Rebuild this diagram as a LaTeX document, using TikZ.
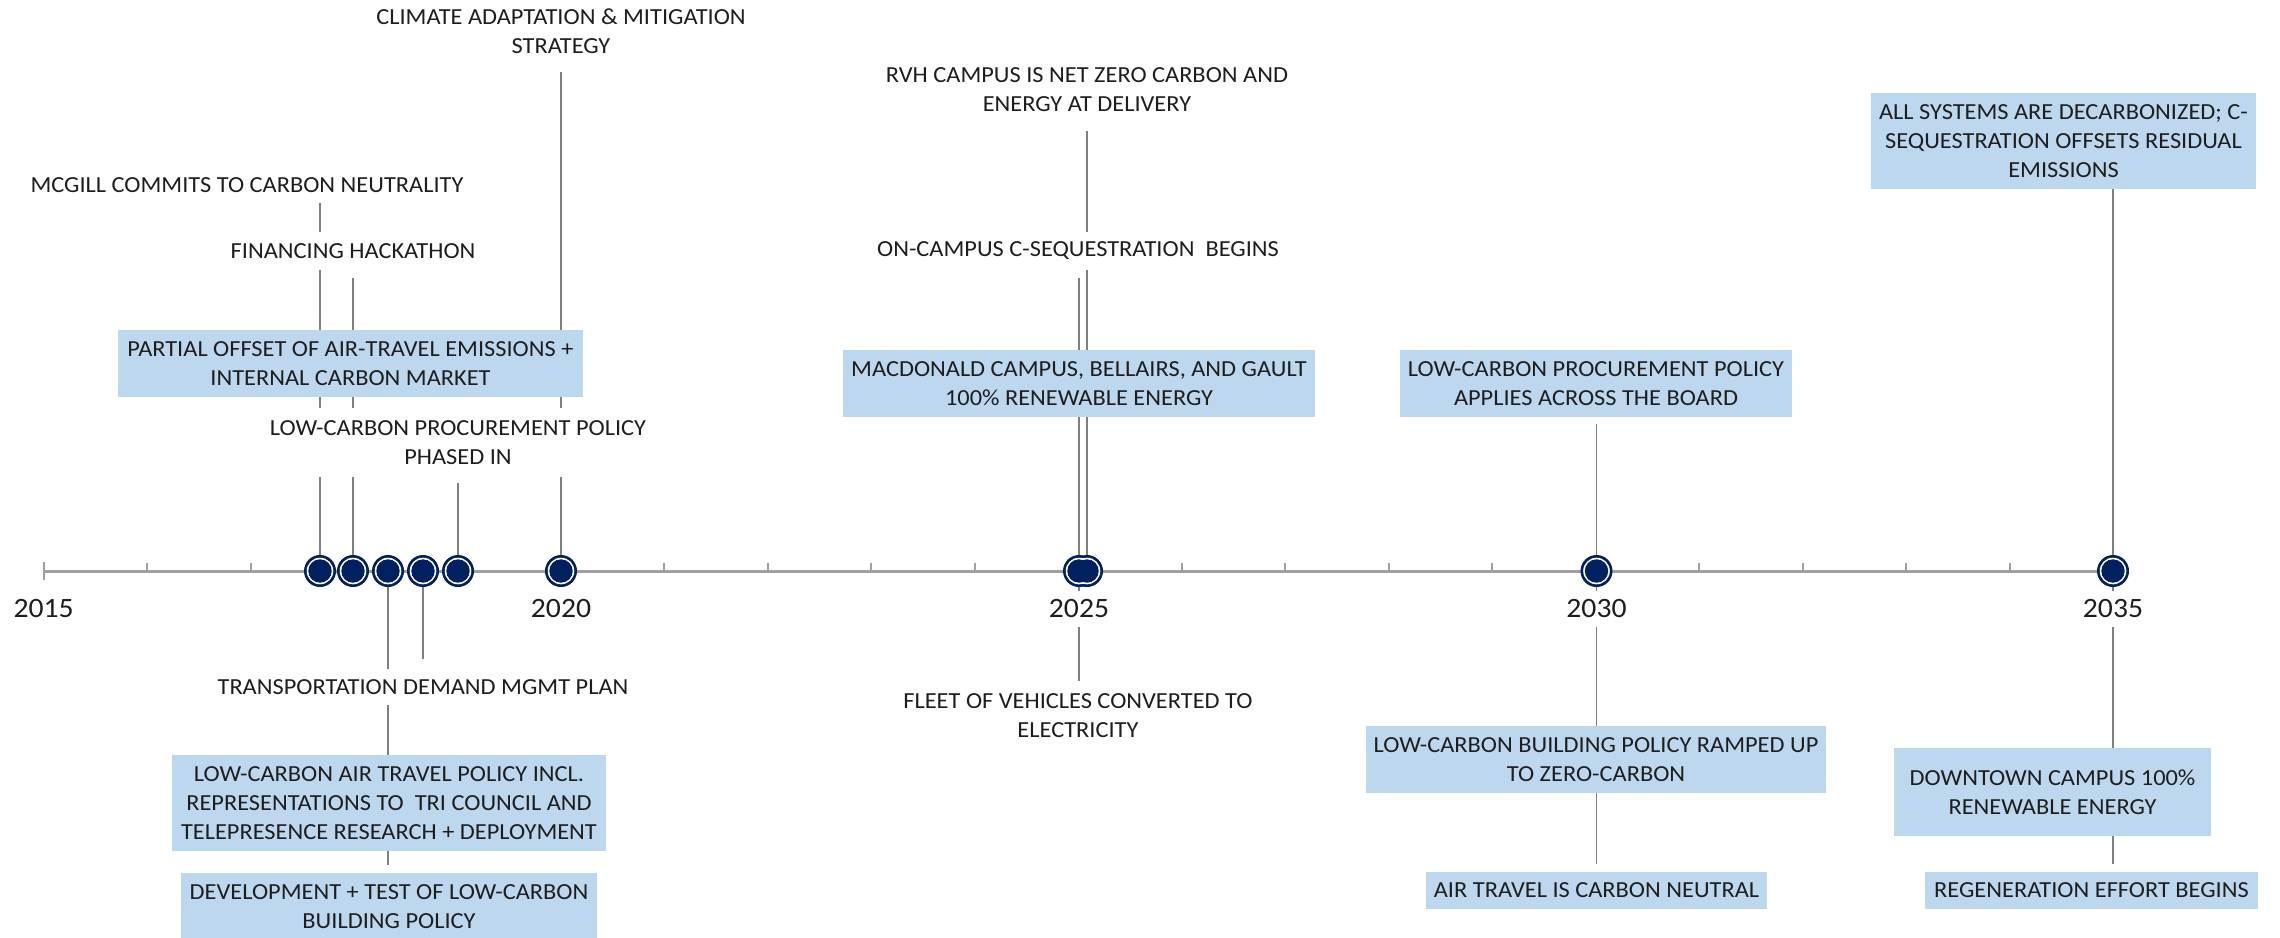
\documentclass[tikz,border=0pt]{standalone}
\usepackage{fontspec}
\setmainfont{Carlito}[FakeStretch=1.06]
\usetikzlibrary{calc}
\definecolor{navy}{HTML}{002060}
\definecolor{boxblue}{HTML}{BDD7EE}
\definecolor{axisgray}{HTML}{A0A0A0}
\definecolor{linegray}{HTML}{808080}
\definecolor{txt}{HTML}{1E1E1E}
\pgfdeclarelayer{axislayer}
\pgfdeclarelayer{connlayer}
\pgfsetlayers{axislayer,connlayer,main}
\begin{document}
\begin{tikzpicture}[x=1pt,y=-1pt,
  evtxt/.style={font=\fontsize{23}{29}\selectfont, text=txt, align=center, inner sep=0pt},
  lbl/.style={evtxt, fill=white},
  bluebox/.style={evtxt, fill=boxblue},
  yearlbl/.style={font=\fontsize{28}{32}\selectfont, text=txt, fill=white, inner sep=0pt, minimum width=72pt, minimum height=36pt},
  conn/.style={draw=linegray, line width=1.5pt},
  axisline/.style={draw=axisgray, line width=3pt},
  tickline/.style={draw=axisgray, line width=2pt}
]
\useasboundingbox (0,0) rectangle (2280,937);

% axis
\coordinate (a0) at (43.6,571);
\coordinate (a1) at (2113,571);
\begin{pgfonlayer}{axislayer}
\draw[axisline] (a0) -- (a1);
\foreach \i in {0,...,20} \draw[tickline] ($(a0)+(\i*103.47,0)$) -- ++(0,-8);
\foreach \i in {0,5,10,15,20} \draw[tickline] ($(a0)+(\i*103.47,-9)$) -- ++(0,18);
\end{pgfonlayer}

% marker positions
\coordinate (m1) at (320,571);
\coordinate (m2) at (353,571);
\coordinate (m3) at (388,571);
\coordinate (m4) at (423,571);
\coordinate (m5) at (458,571);
\coordinate (m6) at (561,571);
\coordinate (m7) at (1079,571);
\coordinate (m8) at (1087,571);
\coordinate (m9) at (1596.5,571);
\coordinate (m10) at (2113,571);

% labels
\node[lbl, minimum width=390pt, minimum height=82pt] (clim) at (561,31) {CLIMATE ADAPTATION \& MITIGATION\\STRATEGY};
\node[lbl, minimum width=440pt, minimum height=36pt] (mcg) at (247,185) {MCGILL COMMITS TO CARBON NEUTRALITY};
\node[lbl, minimum width=260pt, minimum height=38pt] (fin) at (353,251) {FINANCING HACKATHON};
\node[bluebox, minimum width=465pt, minimum height=67pt] (partial) at (350.5,363.5) {PARTIAL OFFSET OF AIR-TRAVEL EMISSIONS +\\INTERNAL CARBON MARKET};
\node[lbl, minimum width=390pt, minimum height=69pt] (proc1) at (458,442.5) {LOW-CARBON PROCUREMENT POLICY\\PHASED IN};
\node[lbl, minimum width=420pt, minimum height=36pt] (tdm) at (423,687) {TRANSPORTATION DEMAND MGMT PLAN};
\node[bluebox, minimum width=434pt, minimum height=96pt] (airpol) at (389,803) {LOW-CARBON AIR TRAVEL POLICY INCL.\\REPRESENTATIONS TO\ \ TRI COUNCIL AND\\TELEPRESENCE RESEARCH + DEPLOYMENT};
\node[bluebox, minimum width=416pt, minimum height=67pt] (dev) at (389,906.5) {DEVELOPMENT + TEST OF LOW-CARBON\\BUILDING POLICY};
\node[lbl, minimum width=410pt, minimum height=70pt] (rvh) at (1087,90) {RVH CAMPUS IS NET ZERO CARBON AND\\ENERGY AT DELIVERY};
\node[lbl, minimum width=412pt, minimum height=38pt] (oncamp) at (1078,251) {ON-CAMPUS C-SEQUESTRATION\ \ BEGINS};
\node[bluebox, minimum width=472pt, minimum height=67pt] (macd) at (1079,383.5) {MACDONALD CAMPUS, BELLAIRS, AND GAULT\\100\% RENEWABLE ENERGY};
\node[lbl, minimum width=360pt, minimum height=70pt] (fleet) at (1078,716) {FLEET OF VEHICLES CONVERTED TO\\ELECTRICITY};
\node[bluebox, minimum width=392pt, minimum height=67pt] (proc2) at (1596,383.5) {LOW-CARBON PROCUREMENT POLICY\\APPLIES ACROSS THE BOARD};
\node[bluebox, minimum width=460pt, minimum height=67pt] (bldg) at (1596,759.5) {LOW-CARBON BUILDING POLICY RAMPED UP\\TO ZERO-CARBON};
\node[bluebox, minimum width=341pt, minimum height=37pt] (airneu) at (1596.5,890.5) {AIR TRAVEL IS CARBON NEUTRAL};
\node[bluebox, minimum width=385pt, minimum height=96pt] (allsys) at (2063.5,141) {ALL SYSTEMS ARE DECARBONIZED; C-\\SEQUESTRATION OFFSETS RESIDUAL\\EMISSIONS};
\node[bluebox, minimum width=317pt, minimum height=88pt] (down) at (2052.5,792) {DOWNTOWN CAMPUS 100\%\\RENEWABLE ENERGY};
\node[bluebox, minimum width=333pt, minimum height=37pt] (regen) at (2091.5,890.5) {REGENERATION EFFORT BEGINS};

% year labels
\node[yearlbl] (y2015) at (43.6,609) {2015};
\node[yearlbl] (y2020) at (561,609) {2020};
\node[yearlbl] (y2025) at (1079,609) {2025};
\node[yearlbl] (y2030) at (1596.5,609) {2030};
\node[yearlbl] (y2035) at (2113,609) {2035};

% connectors
\begin{pgfonlayer}{connlayer}
\draw[conn] (m1) -- (m1 |- mcg.south);
\draw[conn, shorten >=8pt] (m2) -- (m2 |- fin.south);
\draw[conn, shorten >=8pt] (m3) -- (m3 |- dev.north);
\draw[conn, shorten >=10pt] (m4) -- (m4 |- tdm.north);
\draw[conn, shorten >=6pt] (m5) -- (m5 |- proc1.south);
\draw[conn] (m6) -- (m6 |- clim.south);
\draw[conn, shorten >=8pt] (m7) -- (m7 |- oncamp.south);
\draw[conn] (m7) -- (m7 |- fleet.north);
\draw[conn, shorten >=6pt] (m8) -- (m8 |- rvh.south);
\draw[conn, shorten >=7pt] (m9) -- (m9 |- proc2.south);
\draw[conn, shorten >=8pt] (m9) -- (m9 |- airneu.north);
\draw[conn] (m10) -- (m10 |- allsys.south);
\draw[conn, shorten >=8pt] (m10) -- (m10 |- regen.north);
\end{pgfonlayer}

% markers
\foreach \m in {m1,m2,m3,m4,m5,m6,m7,m8,m9,m10} \fill[navy] (\m) circle (16pt);
\foreach \m in {m1,m2,m3,m4,m5,m6,m7,m8,m9,m10} \fill[white] (\m) circle (13.3pt);
\foreach \m in {m1,m2,m3,m4,m5,m6,m7,m8,m9,m10} \fill[navy] (\m) circle (11.7pt);
\end{tikzpicture}
\end{document}
